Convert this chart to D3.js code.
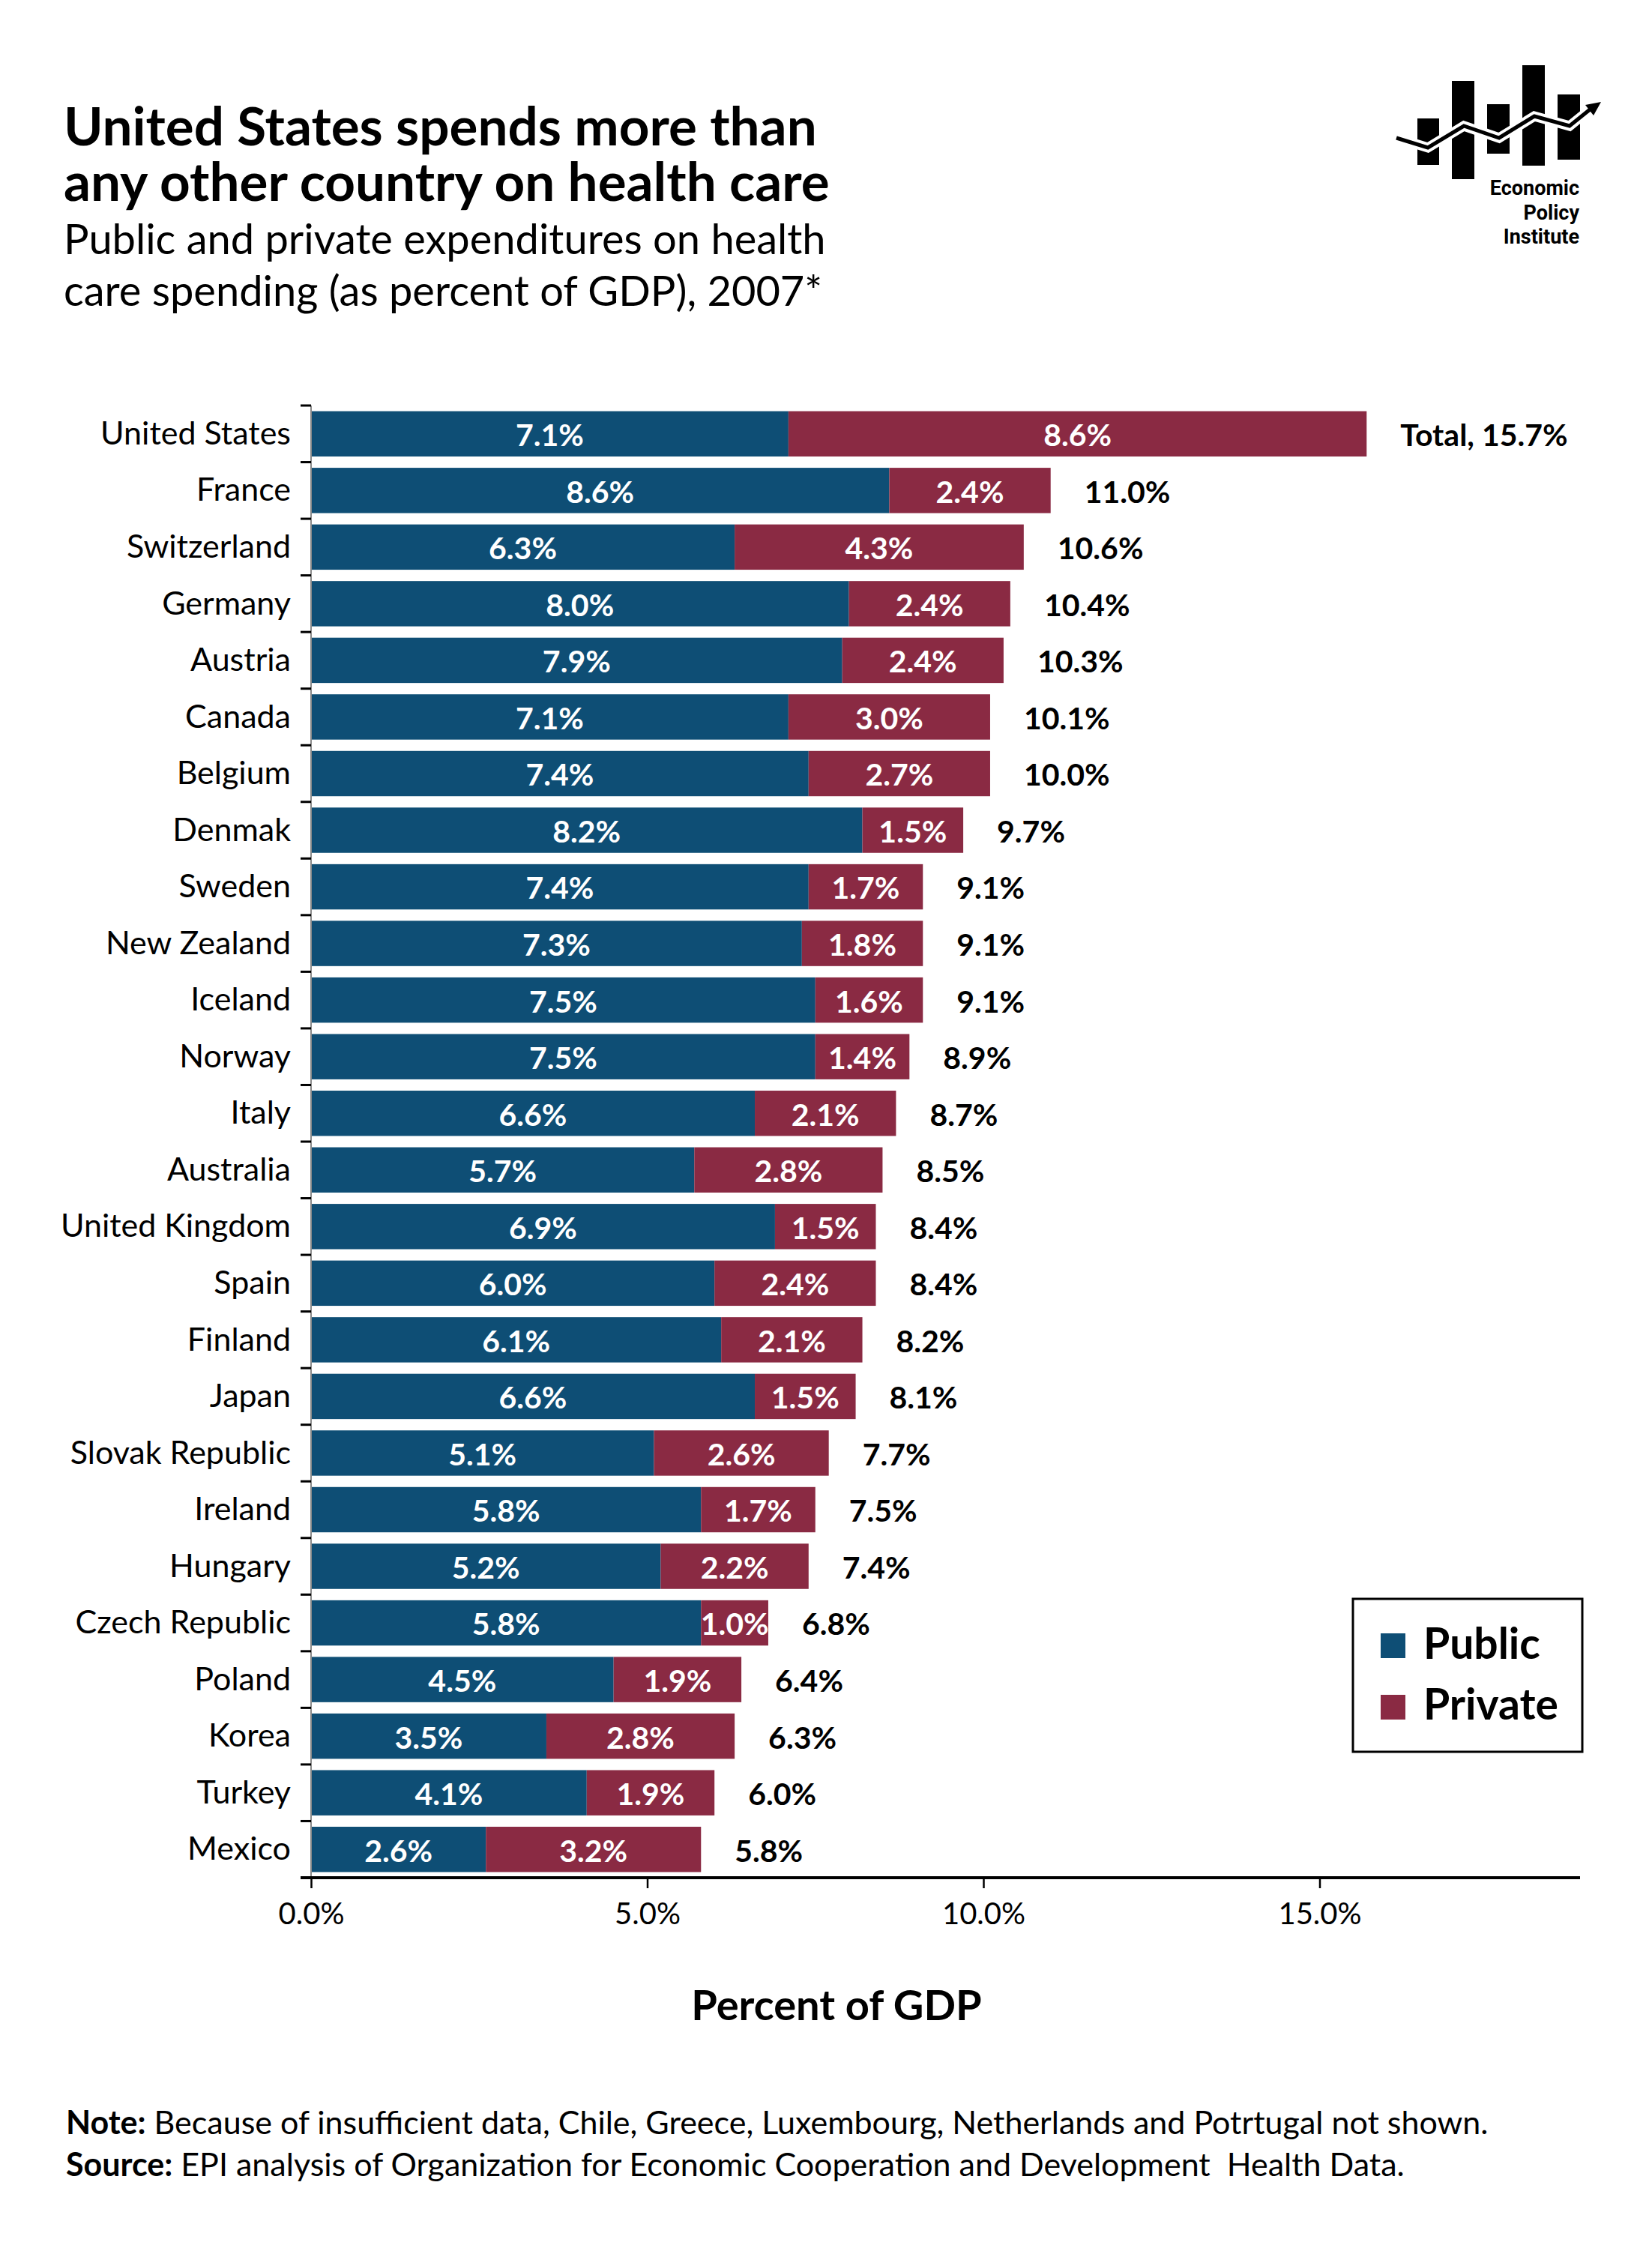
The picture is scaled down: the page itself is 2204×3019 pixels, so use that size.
<!DOCTYPE html>
<html>
<head>
<meta charset="utf-8">
<script src="https://cdn.jsdelivr.net/npm/d3@7"></script>
<style>
  html, body { margin: 0; padding: 0; background: #fff; }
  svg { display: block; }
  text { font-family: Lato, "Open Sans", sans-serif; }
</style>
</head>
<body>
<script>
// ---- data ----
const countries = ["United States","France","Switzerland","Germany","Austria","Canada","Belgium","Denmak","Sweden","New Zealand","Iceland","Norway","Italy","Australia","United Kingdom","Spain","Finland","Japan","Slovak Republic","Ireland","Hungary","Czech Republic","Poland","Korea","Turkey","Mexico"];
const publicVals  = [7.1,8.6,6.3,8.0,7.9,7.1,7.4,8.2,7.4,7.3,7.5,7.5,6.6,5.7,6.9,6.0,6.1,6.6,5.1,5.8,5.2,5.8,4.5,3.5,4.1,2.6];
const privateVals = [8.6,2.4,4.3,2.4,2.4,3.0,2.7,1.5,1.7,1.8,1.6,1.4,2.1,2.8,1.5,2.4,2.1,1.5,2.6,1.7,2.2,1.0,1.9,2.8,1.9,3.2];
const totalVals   = [15.7,11.0,10.6,10.4,10.3,10.1,10.0,9.7,9.1,9.1,9.1,8.9,8.7,8.5,8.4,8.4,8.2,8.1,7.7,7.5,7.4,6.8,6.4,6.3,6.0,5.8];
const xTicks = [0, 5, 10, 15];
const seriesNames = ["Public", "Private"];
const seriesColors = ["#0e4e75", "#8a2a43"];

const W = 2204, H = 3019;
const svg = d3.select("body").append("svg").attr("width", W).attr("height", H);

// ---- title ----
svg.append("text").attr("x", 85).attr("y", 194).attr("font-size", 71).attr("font-weight", 700)
  .text("United States spends more than");
svg.append("text").attr("x", 85).attr("y", 268).attr("font-size", 71).attr("font-weight", 700)
  .text("any other country on health care");
svg.append("text").attr("x", 85).attr("y", 339).attr("font-size", 56)
  .text("Public and private expenditures on health");
svg.append("text").attr("x", 85).attr("y", 408).attr("font-size", 56)
  .text("care spending (as percent of GDP), 2007*");

// ---- logo ----
const logo = svg.append("g");
const logoBars = [[1891,158,29,62],[1937,108,30,131],[1984,139,30,66],[2031,87,30,134],[2078,126,30,87]];
logoBars.forEach(b => logo.append("rect").attr("x", b[0]).attr("y", b[1]).attr("width", b[2]).attr("height", b[3]).attr("fill", "#000"));
const logoLine = [[1863,184],[1905,197],[1953,168],[2000,184],[2047,155],[2094,168],[2125,143]];
const lineGen = d3.line();
logo.append("path").attr("d", lineGen(logoLine)).attr("fill", "none").attr("stroke", "#fff").attr("stroke-width", 13).attr("stroke-linejoin", "miter");
logo.append("path").attr("d", lineGen(logoLine)).attr("fill", "none").attr("stroke", "#000").attr("stroke-width", 5).attr("stroke-linejoin", "miter");
logo.append("path").attr("d", "M2136,136 L2115,140 L2126,154 Z").attr("fill", "#000");
[["Economic",260],["Policy",293],["Institute",325]].forEach(t =>
  logo.append("text").attr("x", 2107).attr("y", t[1]).attr("text-anchor", "end")
    .attr("font-size", 27).attr("font-weight", 700).style("font-family", "Roboto, sans-serif").text(t[0]));

// ---- scales ----
const x = d3.scaleLinear().domain([0, 15]).range([415, 415 + 15 * 89.7]);
const y = d3.scaleBand().domain(countries).range([541, 2505]).paddingInner(0.2).paddingOuter(0.1);

// ---- bars ----
const rows = countries.map((c, i) => ({c, pub: publicVals[i], pri: privateVals[i], tot: totalVals[i], i}));
const g = svg.append("g");
rows.forEach(r => {
  const segs = [{s: 0, x0: 0, x1: r.pub, v: r.pub}, {s: 1, x0: r.pub, x1: r.pub + r.pri, v: r.pri}];
  segs.forEach(s => {
    g.append("rect").attr("x", x(s.x0)).attr("y", y(r.c)).attr("width", x(s.x1) - x(s.x0))
      .attr("height", y.bandwidth()).attr("fill", seriesColors[s.s]);
    g.append("text").attr("x", (x(s.x0) + x(s.x1)) / 2).attr("y", y(r.c) + y.bandwidth() / 2)
      .attr("dy", "0.40em").attr("text-anchor", "middle").attr("fill", "#fff")
      .attr("font-size", 41).attr("font-weight", 700).text(s.v.toFixed(1) + "%");
  });
  g.append("text").attr("x", x(r.pub + r.pri) + 45).attr("y", y(r.c) + y.bandwidth() / 2)
    .attr("dy", "0.40em").attr("fill", "#000").attr("font-size", 41).attr("font-weight", 700)
    .text((r.i === 0 ? "Total, " : "") + r.tot.toFixed(1) + "%");
  g.append("text").attr("x", 388).attr("y", y(r.c) + y.bandwidth() / 2)
    .attr("dy", "0.33em").attr("text-anchor", "end").attr("fill", "#000").attr("font-size", 43)
    .text(r.c);
});

// ---- y axis ----
const step = y.step();
svg.append("line").attr("x1", x(0)).attr("x2", x(0)).attr("y1", y.range()[0]).attr("y2", y.range()[1])
  .attr("stroke", "#8a8a8a").attr("stroke-width", 2);
countries.forEach(c => {
  const yy = y(c) - y.paddingInner() * step / 2;
  svg.append("line").attr("x1", x(0) - 14).attr("x2", x(0)).attr("y1", yy).attr("y2", yy)
    .attr("stroke", "#000").attr("stroke-width", 3);
});

// ---- x axis ----
const xAxis = d3.axisBottom(x).tickValues(xTicks).tickSize(14).tickPadding(20)
  .tickFormat(d => d3.format(".1f")(d) + "%");
const xg = svg.append("g").attr("transform", `translate(0,${y.range()[1]})`).call(xAxis);
xg.select(".domain").remove();
xg.selectAll(".tick line").attr("stroke", "#000").attr("stroke-width", 2.5);
xg.selectAll(".tick text").attr("font-size", 40).attr("fill", "#000").style("font-family", "Lato, sans-serif");
svg.append("line").attr("x1", x(0) - 14).attr("x2", 2108).attr("y1", y.range()[1]).attr("y2", y.range()[1])
  .attr("stroke", "#000").attr("stroke-width", 4);

svg.append("text").attr("x", 1116).attr("y", 2695).attr("text-anchor", "middle")
  .attr("font-size", 56).attr("font-weight", 700).text("Percent of GDP");

// ---- legend ----
const lg = svg.append("g");
lg.append("rect").attr("x", 1805).attr("y", 2133).attr("width", 306).attr("height", 204)
  .attr("fill", "#fff").attr("stroke", "#000").attr("stroke-width", 3);
seriesNames.forEach((n, i) => {
  lg.append("rect").attr("x", 1842).attr("y", 2179 + i * 82).attr("width", 33).attr("height", 33).attr("fill", seriesColors[i]);
  lg.append("text").attr("x", 1899).attr("y", 2213 + i * 81).attr("font-size", 57).attr("font-weight", 700).text(n);
});

// ---- notes ----
const n1 = svg.append("text").attr("x", 88).attr("y", 2847).attr("font-size", 43);
n1.append("tspan").attr("font-weight", 700).text("Note:");
n1.append("tspan").text(" Because of insufficient data, Chile, Greece, Luxembourg, Netherlands and Potrtugal not shown.");
const n2 = svg.append("text").attr("x", 88).attr("y", 2903).attr("font-size", 43);
n2.append("tspan").attr("font-weight", 700).text("Source:");
n2.append("tspan").attr("xml:space", "preserve").text(" EPI analysis of Organization for Economic Cooperation and Development  Health Data.");
</script>
</body>
</html>
